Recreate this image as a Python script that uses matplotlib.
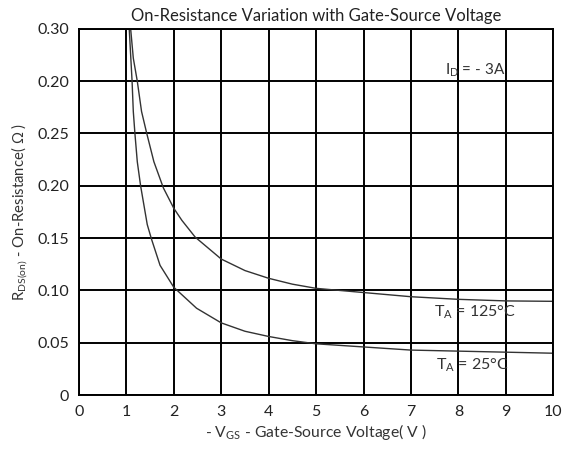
import matplotlib
matplotlib.use('Agg')
import matplotlib.pyplot as plt

# curve readings (y in grid units of 0.05, top grid line sits at 0.35)
vgs_25 = [1.06, 1.12, 1.146, 1.18, 1.23, 1.30, 1.44, 1.53, 1.71, 2.0, 2.48, 3.0, 3.5, 4.0, 4.5, 5.0,
          6.0, 7.0, 8.0, 9.0, 10.0]
rds_25 = [0.35, 0.30, 0.271, 0.25, 0.223, 0.20, 0.163, 0.149, 0.124, 0.103, 0.083, 0.069, 0.061, 0.056,
          0.052, 0.049, 0.046, 0.043, 0.042, 0.041, 0.040]

vgs_125 = [1.09, 1.146, 1.23, 1.32, 1.43, 1.58, 1.78, 2.0, 2.17, 2.45, 3.0, 3.5, 4.0, 4.5, 5.0, 6.0,
           7.0, 8.0, 9.0, 10.0]
rds_125 = [0.35, 0.322, 0.30, 0.271, 0.25, 0.223, 0.198, 0.1785, 0.167, 0.151, 0.130, 0.119, 0.1116,
           0.106, 0.102, 0.098, 0.094, 0.0915, 0.090, 0.0896]

x_ticks = [0, 1, 2, 3, 4, 5, 6, 7, 8, 9, 10]
y_ticks = [0, 0.05, 0.10, 0.15, 0.20, 0.25, 0.30, 0.35]
y_tick_labels = ['0', '0.05', '0.10', '0.15', '0.20', '0.25', '0.20', '0.30']

plt.rcParams['font.family'] = ['Lato', 'DejaVu Sans']
plt.rcParams['mathtext.fontset'] = 'custom'
plt.rcParams['mathtext.rm'] = 'Lato'

fig = plt.figure(figsize=(5.68, 4.51), dpi=100)
ax = fig.add_axes([0.139, 0.124, 0.835, 0.812])

ax.plot(vgs_25, rds_25, color='#333333', lw=1.0)
ax.plot(vgs_125, rds_125, color='#333333', lw=1.0)

ax.set_xlim(0, 10)
ax.set_ylim(0, 0.35)
ax.set_xticks(x_ticks)
ax.set_xticklabels([str(v) for v in x_ticks])
ax.set_yticks(y_ticks)
ax.set_yticklabels(y_tick_labels)
ax.tick_params(length=0, labelsize=11.5, colors='#222222', pad=7)
ax.grid(True, color='black', lw=1.4)
for s in ax.spines.values():
    s.set_color('black')
    s.set_linewidth(1.4)

ax.text(7.72, 0.311, r'I$_\mathregular{D}$ = - 3A', fontsize=11, color='#333333', va='center')
ax.text(7.48, 0.079, r'T$_\mathregular{A}$ = 125°C', fontsize=11.5, color='#333333', va='center')
ax.text(7.52, 0.029, r'T$_\mathregular{A}$ = 25°C', fontsize=11.5, color='#333333', va='center')

ax.set_title('On-Resistance Variation with Gate-Source Voltage', fontsize=12, color='#222222', pad=6)
ax.set_xlabel(r'- V$_\mathregular{GS}$ - Gate-Source Voltage( V )', fontsize=11.3, color='#333333', labelpad=2)
ax.set_ylabel(r'R$_\mathregular{DS(on)}$ - On-Resistance( Ω )', fontsize=10.7, color='#333333', labelpad=5)

fig.savefig('out.png', dpi=100)
